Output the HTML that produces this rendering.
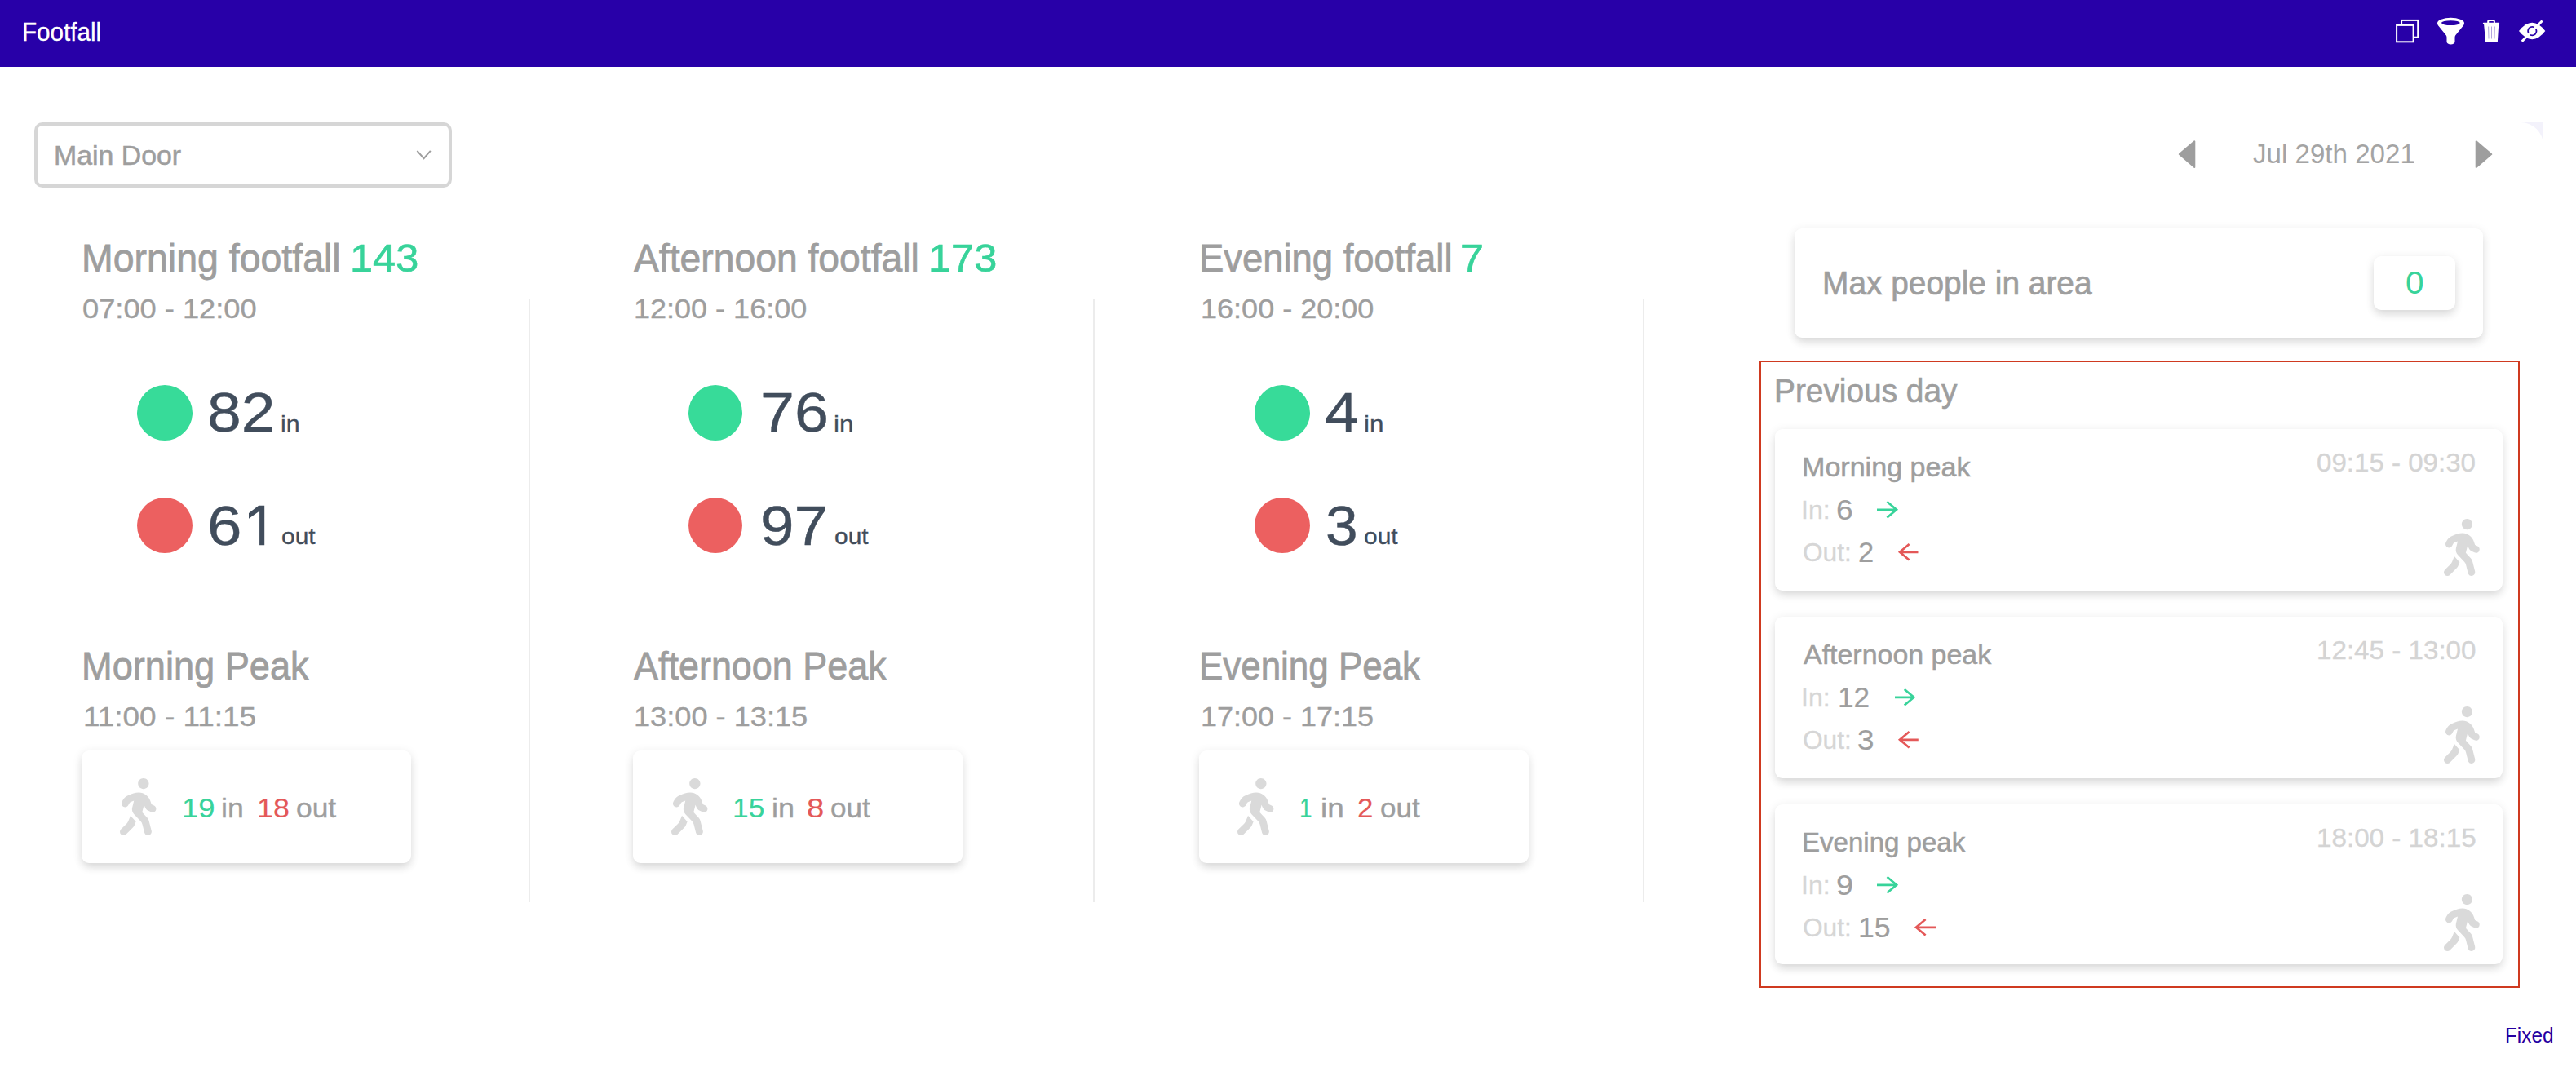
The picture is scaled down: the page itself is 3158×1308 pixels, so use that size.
<!DOCTYPE html>
<html lang="en">
<head>
<meta charset="utf-8">
<title>Footfall</title>
<style>
*{box-sizing:border-box;margin:0;padding:0}
html,body{width:3158px;height:1308px;overflow:hidden;background:#fff}
body{font-family:"Liberation Sans",sans-serif;position:relative;color:#9e9e9e}
.abs{position:absolute;white-space:nowrap;line-height:1;transform-origin:0 0}
.k{-webkit-text-stroke:0.016em currentColor}
.k2{-webkit-text-stroke:0.008em currentColor}
.ic{position:absolute;display:block;overflow:visible}
#hdr{position:absolute;left:0;top:0;width:3158px;height:82px;background:#2800a8}
.sel{position:absolute;left:42px;top:150px;width:512px;height:80px;border:4px solid #d6d6d6;border-radius:10px;background:#fff}
.dot{position:absolute;width:68px;height:68px;border-radius:50%}
.g{background:#37db99}.r{background:#ec6060}
.vl{position:absolute;width:2px;background:#ececec;top:366px;height:740px}
.card{position:absolute;background:#fff;border-radius:9px;box-shadow:0 7px 12px -2px rgba(0,0,0,.11),0 2px 12px 1px rgba(0,0,0,.075)}
.redbox{position:absolute;left:2157px;top:442px;width:932px;height:769px;border:2px solid #cf3a20}
</style>
</head>
<body>
<div id="hdr"></div>
<svg class="ic" style="left:2925px;top:0px" width="215" height="82" viewBox="2925 0 215 82">
<rect x="2944.100" y="24.900" width="20.100" height="20.800" fill="none" stroke="#fff" stroke-width="2"/>
<rect x="2938.100" y="30.900" width="20.500" height="20.400" fill="#2800a8" stroke="#fff" stroke-width="2"/>
<path fill="#fff" fill-rule="evenodd" d="M2988 28.300A16.500 6.500 0 0 1 3021 28.300Q3021 30 3019.800 31.500L3010.300 43.300Q3009.500 44.300 3009.500 45.800V51A5 3.600 0 0 1 2999.500 51V45.800Q2999.500 44.300 2998.700 43.300L2989.200 31.500Q2988 30 2988 28.300ZM2993 28.100A11.400 2.900 0 1 0 3015.800 28.100A11.400 2.900 0 1 0 2993 28.100Z"/>
<rect x="3043.900" y="27.700" width="20.200" height="2.300" rx="0.800" fill="#fff"/>
<path d="M3050.200 28V26.400Q3050.200 24.900 3051.700 24.900H3056.400Q3057.900 24.900 3057.900 26.400V28" fill="none" stroke="#fff" stroke-width="2"/>
<path d="M3045.100 29.800H3063.200L3061.900 51.200Q3061.850 52.100 3060.900 52.100H3048.100Q3047.150 52.100 3047.100 51.200Z" fill="#fff"/>
<path d="M3050.600 32.500L3051 47.500M3054.500 32.500V47.500M3058.400 32.500L3058 47.500" stroke="#2800a8" stroke-opacity="0.400" stroke-width="0.900" fill="none"/>
<path d="M3088 38.100Q3096 27.800 3104.200 27.800Q3112.400 27.800 3120.300 38.100Q3112.400 48.300 3104.200 48.300Q3096 48.300 3088 38.100Z" fill="#fff"/>
<circle cx="3104.300" cy="38.100" r="5.200" fill="none" stroke="#2800a8" stroke-width="1.800"/>
<path d="M3091.700 50.700L3116.600 25.500" stroke="#fff" stroke-width="3" fill="none"/>
</svg>

<div class="sel"></div>
<svg class="ic" style="left:508px;top:182px" width="24" height="16" viewBox="0 0 24 16"><path d="M3.4 2.9L11.600 12.200L19.800 2.900" fill="none" stroke="#9e9e9e" stroke-width="2"/></svg>
<svg class="ic" style="left:2668px;top:170px" width="26" height="38" viewBox="0 0 26 38"><path d="M22.300 3.300V34.900L3.800 19.100Z" fill="#9e9e9e" stroke="#9e9e9e" stroke-width="2" stroke-linejoin="round"/></svg>
<svg class="ic" style="left:3032px;top:170px" width="26" height="38" viewBox="0 0 26 38"><path d="M3.700 3.300V34.900L22.200 19.100Z" fill="#9e9e9e" stroke="#9e9e9e" stroke-width="2" stroke-linejoin="round"/></svg>
<svg class="ic" style="left:3090px;top:150px" width="28" height="28" viewBox="0 0 28 28"><path d="M0 0H28V28A28 28 0 0 0 0 0Z" fill="#f3f2fb"/></svg>

<div class="vl" style="left:648px"></div>
<div class="vl" style="left:1340px"></div>
<div class="vl" style="left:2014px"></div>

<div class="dot g" style="left:168px;top:472px"></div>
<div class="dot r" style="left:168px;top:610px"></div>
<div class="dot g" style="left:844px;top:472px;width:66px"></div>
<div class="dot r" style="left:844px;top:610px;width:66px"></div>
<div class="dot g" style="left:1538px;top:472px"></div>
<div class="dot r" style="left:1538px;top:610px"></div>

<div class="card" style="left:100px;top:920px;width:404px;height:138px"></div>
<div class="card" style="left:776px;top:920px;width:404px;height:138px"></div>
<div class="card" style="left:1470px;top:920px;width:404px;height:138px"></div>

<div class="card" style="left:2200px;top:280px;width:844px;height:134px"></div>
<div class="card" style="left:2910px;top:314px;width:100px;height:66px"></div>
<div class="redbox"></div>
<div class="card" style="left:2176px;top:526px;width:892px;height:198px"></div>
<div class="card" style="left:2176px;top:756px;width:892px;height:198px"></div>
<div class="card" style="left:2176px;top:986px;width:892px;height:196px"></div>

<svg class="ic" style="left:146.6px;top:953.9px" width="44.4" height="70" viewBox="0 0 320 512" preserveAspectRatio="none"><path fill="#dadada" d="M208 96c26.500 0 48-21.500 48-48S234.500 0 208 0s-48 21.500-48 48 21.500 48 48 48zm94.500 149.100l-23.300-11.800-9.700-29.400c-14.700-44.600-55.700-75.800-102.200-75.900-36-.1-55.900 10.100-93.300 25.200-21.600 8.700-39.300 25.200-49.700 46.200L17.600 213c-7.800 15.800-1.500 35 14.200 42.900 15.600 7.900 34.600 1.500 42.500-14.300L81 228c3.500-7 9.300-12.500 16.500-15.400l26.800-10.800-15.200 60.700c-5.200 20.800.4 42.900 14.900 58.800l59.900 65.400c7.200 7.900 12.300 17.400 14.900 27.700l18.300 73.300c4.300 17.100 21.700 27.600 38.800 23.300 17.100-4.300 27.600-21.700 23.300-38.800l-22.200-89c-2.600-10.300-7.700-19.900-14.900-27.700l-45.500-49.700 17.200-68.700 5.500 16.500c5.300 16.100 16.700 29.400 31.700 37l23.300 11.800c15.600 7.900 34.600 1.500 42.500-14.300 7.700-15.700 1.400-35.100-14.300-43zM73.600 385.800c-3.200 8.100-8 15.400-14.200 21.500l-50 50.100c-12.500 12.500-12.500 32.800 0 45.300s32.700 12.500 45.200 0l59.400-59.400c6.100-6.100 10.900-13.400 14.200-21.500l13.500-33.800c-55.300-60.300-38.700-41.800-47.400-53.700l-20.700 51.500z"/></svg>
<svg class="ic" style="left:823px;top:953.9px" width="44.4" height="70" viewBox="0 0 320 512" preserveAspectRatio="none"><path fill="#dadada" d="M208 96c26.500 0 48-21.500 48-48S234.500 0 208 0s-48 21.500-48 48 21.500 48 48 48zm94.500 149.100l-23.300-11.800-9.700-29.400c-14.700-44.600-55.700-75.800-102.200-75.900-36-.1-55.900 10.100-93.300 25.200-21.600 8.700-39.300 25.200-49.700 46.200L17.600 213c-7.800 15.800-1.500 35 14.200 42.900 15.600 7.900 34.600 1.500 42.500-14.300L81 228c3.500-7 9.300-12.500 16.500-15.400l26.800-10.800-15.200 60.700c-5.200 20.800.4 42.900 14.900 58.800l59.900 65.400c7.200 7.900 12.300 17.400 14.900 27.700l18.300 73.300c4.300 17.100 21.700 27.600 38.800 23.300 17.100-4.300 27.600-21.700 23.300-38.800l-22.200-89c-2.600-10.300-7.700-19.900-14.900-27.700l-45.500-49.700 17.200-68.700 5.500 16.500c5.300 16.100 16.700 29.400 31.700 37l23.300 11.800c15.600 7.900 34.600 1.500 42.500-14.300 7.700-15.700 1.400-35.100-14.300-43zM73.600 385.800c-3.200 8.100-8 15.400-14.200 21.500l-50 50.100c-12.500 12.500-12.500 32.800 0 45.300s32.700 12.500 45.200 0l59.400-59.400c6.100-6.100 10.900-13.400 14.200-21.500l13.500-33.800c-55.300-60.300-38.700-41.800-47.400-53.700l-20.700 51.500z"/></svg>
<svg class="ic" style="left:1516.6px;top:953.9px" width="44.4" height="70" viewBox="0 0 320 512" preserveAspectRatio="none"><path fill="#dadada" d="M208 96c26.500 0 48-21.500 48-48S234.500 0 208 0s-48 21.500-48 48 21.500 48 48 48zm94.500 149.100l-23.300-11.800-9.700-29.400c-14.700-44.600-55.700-75.800-102.200-75.900-36-.1-55.900 10.100-93.300 25.200-21.600 8.700-39.300 25.200-49.700 46.200L17.600 213c-7.800 15.800-1.500 35 14.200 42.900 15.600 7.900 34.600 1.500 42.500-14.300L81 228c3.500-7 9.300-12.500 16.500-15.400l26.800-10.800-15.200 60.700c-5.200 20.800.4 42.900 14.900 58.800l59.900 65.400c7.200 7.900 12.300 17.400 14.900 27.700l18.300 73.300c4.300 17.100 21.700 27.600 38.800 23.300 17.100-4.300 27.600-21.700 23.300-38.800l-22.200-89c-2.600-10.300-7.700-19.900-14.900-27.700l-45.500-49.700 17.200-68.700 5.500 16.500c5.300 16.100 16.700 29.400 31.700 37l23.300 11.800c15.600 7.900 34.600 1.500 42.500-14.300 7.700-15.700 1.400-35.100-14.300-43zM73.600 385.800c-3.200 8.100-8 15.400-14.200 21.500l-50 50.100c-12.500 12.500-12.500 32.800 0 45.300s32.700 12.500 45.200 0l59.400-59.400c6.100-6.100 10.900-13.400 14.200-21.500l13.500-33.800c-55.300-60.300-38.700-41.800-47.400-53.700l-20.700 51.500z"/></svg>
<svg class="ic" style="left:2995.5px;top:636.2px" width="43.75" height="70" viewBox="0 0 320 512" preserveAspectRatio="none"><path fill="#dadada" d="M208 96c26.500 0 48-21.500 48-48S234.500 0 208 0s-48 21.500-48 48 21.500 48 48 48zm94.500 149.100l-23.300-11.800-9.700-29.400c-14.700-44.600-55.700-75.800-102.200-75.900-36-.1-55.900 10.100-93.300 25.200-21.600 8.700-39.300 25.200-49.700 46.200L17.600 213c-7.800 15.800-1.500 35 14.200 42.900 15.600 7.900 34.600 1.500 42.500-14.300L81 228c3.500-7 9.300-12.500 16.500-15.400l26.800-10.800-15.200 60.700c-5.200 20.800.4 42.900 14.900 58.800l59.900 65.400c7.200 7.900 12.300 17.400 14.900 27.700l18.300 73.300c4.300 17.100 21.700 27.600 38.800 23.300 17.100-4.300 27.600-21.700 23.300-38.800l-22.200-89c-2.600-10.300-7.700-19.900-14.900-27.700l-45.500-49.700 17.200-68.700 5.500 16.500c5.300 16.100 16.700 29.400 31.700 37l23.300 11.800c15.600 7.900 34.600 1.500 42.500-14.300 7.700-15.700 1.400-35.100-14.300-43zM73.600 385.800c-3.200 8.100-8 15.400-14.200 21.500l-50 50.100c-12.500 12.500-12.500 32.800 0 45.300s32.700 12.500 45.200 0l59.400-59.400c6.100-6.100 10.900-13.400 14.200-21.500l13.500-33.800c-55.300-60.300-38.700-41.800-47.400-53.700l-20.700 51.500z"/></svg>
<svg class="ic" style="left:2995.5px;top:866.2px" width="43.75" height="70" viewBox="0 0 320 512" preserveAspectRatio="none"><path fill="#dadada" d="M208 96c26.500 0 48-21.500 48-48S234.500 0 208 0s-48 21.500-48 48 21.500 48 48 48zm94.500 149.100l-23.300-11.800-9.700-29.400c-14.700-44.600-55.700-75.800-102.200-75.900-36-.1-55.900 10.100-93.300 25.200-21.600 8.700-39.300 25.200-49.700 46.200L17.600 213c-7.800 15.800-1.500 35 14.200 42.900 15.600 7.900 34.600 1.500 42.500-14.300L81 228c3.500-7 9.300-12.500 16.500-15.400l26.800-10.800-15.200 60.700c-5.200 20.800.4 42.900 14.900 58.800l59.900 65.400c7.200 7.900 12.300 17.400 14.900 27.700l18.300 73.300c4.300 17.100 21.700 27.600 38.800 23.300 17.100-4.300 27.600-21.700 23.300-38.800l-22.200-89c-2.600-10.300-7.700-19.900-14.900-27.700l-45.500-49.700 17.200-68.700 5.500 16.500c5.300 16.100 16.700 29.400 31.700 37l23.300 11.800c15.600 7.900 34.600 1.500 42.500-14.300 7.700-15.700 1.400-35.100-14.300-43zM73.600 385.800c-3.200 8.100-8 15.400-14.200 21.500l-50 50.100c-12.500 12.500-12.500 32.800 0 45.300s32.700 12.500 45.200 0l59.400-59.400c6.100-6.100 10.900-13.400 14.200-21.500l13.500-33.800c-55.300-60.300-38.700-41.800-47.400-53.700l-20.700 51.500z"/></svg>
<svg class="ic" style="left:2995.5px;top:1096.2px" width="43.75" height="70" viewBox="0 0 320 512" preserveAspectRatio="none"><path fill="#dadada" d="M208 96c26.500 0 48-21.500 48-48S234.500 0 208 0s-48 21.500-48 48 21.500 48 48 48zm94.500 149.100l-23.300-11.800-9.700-29.400c-14.700-44.600-55.700-75.800-102.200-75.900-36-.1-55.900 10.100-93.300 25.200-21.600 8.700-39.300 25.200-49.700 46.200L17.600 213c-7.800 15.800-1.500 35 14.200 42.900 15.600 7.900 34.600 1.500 42.500-14.300L81 228c3.500-7 9.300-12.500 16.500-15.400l26.800-10.800-15.200 60.700c-5.200 20.800.4 42.900 14.900 58.800l59.900 65.400c7.200 7.900 12.300 17.400 14.900 27.700l18.300 73.300c4.300 17.100 21.700 27.600 38.800 23.300 17.100-4.300 27.600-21.700 23.300-38.800l-22.200-89c-2.600-10.300-7.700-19.900-14.900-27.700l-45.500-49.700 17.200-68.700 5.500 16.500c5.300 16.100 16.700 29.400 31.700 37l23.300 11.800c15.600 7.900 34.600 1.500 42.500-14.300 7.700-15.700 1.400-35.100-14.300-43zM73.600 385.800c-3.200 8.100-8 15.400-14.200 21.500l-50 50.100c-12.500 12.500-12.500 32.800 0 45.300s32.700 12.500 45.200 0l59.400-59.400c6.100-6.100 10.900-13.400 14.200-21.500l13.500-33.800c-55.300-60.300-38.700-41.800-47.400-53.700l-20.700 51.500z"/></svg>
<svg class="ic" style="left:2301px;top:614.2px" width="26.0" height="21.6" viewBox="0 0 26.0 21.6"><path d="M0 10.8H23.4 M12.4 1L24 10.8L12.4 20.6" fill="none" stroke="#38d39a" stroke-width="2.7" stroke-linejoin="miter"/></svg>
<svg class="ic" style="left:2326.5px;top:666.3px" width="24.5" height="21.6" viewBox="0 0 24.5 21.6"><path d="M24.5 10.8H2.6 M13.6 1L2 10.8L13.6 20.6" fill="none" stroke="#e45858" stroke-width="2.7" stroke-linejoin="miter"/></svg>
<svg class="ic" style="left:2322.7px;top:844.2px" width="25.3" height="21.6" viewBox="0 0 25.3 21.6"><path d="M0 10.8H22.70000000000018 M11.700000000000182 1L23.300000000000182 10.8L11.700000000000182 20.6" fill="none" stroke="#38d39a" stroke-width="2.7" stroke-linejoin="miter"/></svg>
<svg class="ic" style="left:2326.5px;top:896.3px" width="24.8" height="21.6" viewBox="0 0 24.8 21.6"><path d="M24.800000000000182 10.8H2.6 M13.6 1L2 10.8L13.6 20.6" fill="none" stroke="#e45858" stroke-width="2.7" stroke-linejoin="miter"/></svg>
<svg class="ic" style="left:2300.9px;top:1074.2px" width="26.1" height="21.6" viewBox="0 0 26.1 21.6"><path d="M0 10.8H23.499999999999908 M12.49999999999991 1L24.09999999999991 10.8L12.49999999999991 20.6" fill="none" stroke="#38d39a" stroke-width="2.7" stroke-linejoin="miter"/></svg>
<svg class="ic" style="left:2346.8px;top:1126.3px" width="26.1" height="21.6" viewBox="0 0 26.1 21.6"><path d="M26.09999999999991 10.8H2.6 M13.6 1L2 10.8L13.6 20.6" fill="none" stroke="#e45858" stroke-width="2.7" stroke-linejoin="miter"/></svg>
<svg class="ic" style="left:300px;top:615px" width="30" height="58" viewBox="300 615 30 58"><path fill="#414d5c" d="M324.2 619.7V668.2H318.100V626.500L305 635.800V629.100L317.100 619.700Z"/></svg>
<div class="abs" style="left:27.2px;top:23.8px;font-size:31.5px;color:#fff;transform:scaleX(0.941);-webkit-text-stroke:0.0080em currentColor">Footfall</div>
<div class="abs" style="left:65.5px;top:173.1px;font-size:34px;color:#9e9e9e;transform:scaleX(0.995);-webkit-text-stroke:0.0160em currentColor">Main Door</div>
<div class="abs" style="left:2761.5px;top:171.4px;font-size:34px;color:#a4a4a4;transform:scaleX(0.974)">Jul 29th 2021</div>
<div class="abs" style="left:99.6px;top:293.4px;font-size:48px;color:#9e9e9e;transform:scaleX(0.968);-webkit-text-stroke:0.0160em currentColor">Morning footfall</div>
<div class="abs" style="left:429.2px;top:293.4px;font-size:48px;color:#38d39a;transform:scaleX(1.052);-webkit-text-stroke:0.0130em currentColor">143</div>
<div class="abs" style="left:100.9px;top:361.3px;font-size:34px;color:#9e9e9e;transform:scaleX(1.066);-webkit-text-stroke:0.0110em currentColor">07:00 - 12:00</div>
<div class="abs" style="left:253.9px;top:471.4px;font-size:69px;color:#414d5c;transform:scaleX(1.088);-webkit-text-stroke:0.0060em currentColor">82</div>
<div class="abs" style="left:344.4px;top:506.5px;font-size:27px;color:#414d5c;transform:scaleX(1.123);-webkit-text-stroke:0.0110em currentColor">in</div>
<div class="abs" style="left:253.7px;top:609.8px;font-size:69px;color:#414d5c;transform:scaleX(1.106);-webkit-text-stroke:0.0060em currentColor">6</div>
<div class="abs" style="left:344.7px;top:645.2px;font-size:27px;color:#414d5c;transform:scaleX(1.110);-webkit-text-stroke:0.0110em currentColor">out</div>
<div class="abs" style="left:99.8px;top:793.0px;font-size:48px;color:#9e9e9e;transform:scaleX(0.941);-webkit-text-stroke:0.0160em currentColor">Morning Peak</div>
<div class="abs" style="left:101.8px;top:860.9px;font-size:34px;color:#9e9e9e;transform:scaleX(1.086);-webkit-text-stroke:0.0110em currentColor">11:00 - 11:15</div>
<div class="abs" style="left:222.7px;top:973.3px;font-size:34px;color:#38d39a;transform:scaleX(1.070);-webkit-text-stroke:0.0050em currentColor">19</div>
<div class="abs" style="left:270.5px;top:973.8px;font-size:33.3px;color:#9e9e9e;transform:scaleX(1.067);-webkit-text-stroke:0.0110em currentColor">in</div>
<div class="abs" style="left:315.1px;top:973.3px;font-size:34px;color:#e45858;transform:scaleX(1.055);-webkit-text-stroke:0.0050em currentColor">18</div>
<div class="abs" style="left:362.9px;top:973.8px;font-size:33.3px;color:#9e9e9e;transform:scaleX(1.063);-webkit-text-stroke:0.0110em currentColor">out</div>
<div class="abs" style="left:776.7px;top:293.4px;font-size:48px;color:#9e9e9e;transform:scaleX(0.964);-webkit-text-stroke:0.0160em currentColor">Afternoon footfall</div>
<div class="abs" style="left:1138.1px;top:293.4px;font-size:48px;color:#38d39a;transform:scaleX(1.052);-webkit-text-stroke:0.0130em currentColor">173</div>
<div class="abs" style="left:777.3px;top:361.3px;font-size:34px;color:#9e9e9e;transform:scaleX(1.059);-webkit-text-stroke:0.0110em currentColor">12:00 - 16:00</div>
<div class="abs" style="left:931.5px;top:471.4px;font-size:69px;color:#414d5c;transform:scaleX(1.093);-webkit-text-stroke:0.0060em currentColor">76</div>
<div class="abs" style="left:1021.9px;top:506.5px;font-size:27px;color:#414d5c;transform:scaleX(1.162);-webkit-text-stroke:0.0110em currentColor">in</div>
<div class="abs" style="left:931.9px;top:609.7px;font-size:69px;color:#414d5c;transform:scaleX(1.081);-webkit-text-stroke:0.0060em currentColor">97</div>
<div class="abs" style="left:1022.7px;top:645.2px;font-size:27px;color:#414d5c;transform:scaleX(1.110);-webkit-text-stroke:0.0110em currentColor">out</div>
<div class="abs" style="left:777.2px;top:793.0px;font-size:48px;color:#9e9e9e;transform:scaleX(0.936);-webkit-text-stroke:0.0160em currentColor">Afternoon Peak</div>
<div class="abs" style="left:776.8px;top:860.9px;font-size:34px;color:#9e9e9e;transform:scaleX(1.064);-webkit-text-stroke:0.0110em currentColor">13:00 - 13:15</div>
<div class="abs" style="left:898.3px;top:973.3px;font-size:34px;color:#38d39a;transform:scaleX(1.038);-webkit-text-stroke:0.0050em currentColor">15</div>
<div class="abs" style="left:945.7px;top:973.8px;font-size:33.3px;color:#9e9e9e;transform:scaleX(1.081);-webkit-text-stroke:0.0110em currentColor">in</div>
<div class="abs" style="left:989.2px;top:973.3px;font-size:34px;color:#e45858;transform:scaleX(1.126);-webkit-text-stroke:0.0050em currentColor">8</div>
<div class="abs" style="left:1018.0px;top:973.8px;font-size:33.3px;color:#9e9e9e;transform:scaleX(1.056);-webkit-text-stroke:0.0110em currentColor">out</div>
<div class="abs" style="left:1470.1px;top:293.4px;font-size:48px;color:#9e9e9e;transform:scaleX(0.946);-webkit-text-stroke:0.0160em currentColor">Evening footfall</div>
<div class="abs" style="left:1789.7px;top:293.4px;font-size:48px;color:#38d39a;transform:scaleX(1.085);-webkit-text-stroke:0.0130em currentColor">7</div>
<div class="abs" style="left:1472.0px;top:361.3px;font-size:34px;color:#9e9e9e;transform:scaleX(1.060);-webkit-text-stroke:0.0110em currentColor">16:00 - 20:00</div>
<div class="abs" style="left:1624.1px;top:471.4px;font-size:69px;color:#414d5c;transform:scaleX(1.087);-webkit-text-stroke:0.0060em currentColor">4</div>
<div class="abs" style="left:1672.0px;top:506.5px;font-size:27px;color:#414d5c;transform:scaleX(1.162);-webkit-text-stroke:0.0110em currentColor">in</div>
<div class="abs" style="left:1624.7px;top:609.7px;font-size:69px;color:#414d5c;transform:scaleX(1.033);-webkit-text-stroke:0.0060em currentColor">3</div>
<div class="abs" style="left:1672.4px;top:645.2px;font-size:27px;color:#414d5c;transform:scaleX(1.110);-webkit-text-stroke:0.0110em currentColor">out</div>
<div class="abs" style="left:1469.9px;top:793.0px;font-size:48px;color:#9e9e9e;transform:scaleX(0.915);-webkit-text-stroke:0.0160em currentColor">Evening Peak</div>
<div class="abs" style="left:1471.9px;top:860.9px;font-size:34px;color:#9e9e9e;transform:scaleX(1.058);-webkit-text-stroke:0.0110em currentColor">17:00 - 17:15</div>
<div class="abs" style="left:1593.3px;top:973.3px;font-size:34px;color:#38d39a;transform:scaleX(0.821);-webkit-text-stroke:0.0050em currentColor">1</div>
<div class="abs" style="left:1619.1px;top:973.8px;font-size:33.3px;color:#9e9e9e;transform:scaleX(1.109);-webkit-text-stroke:0.0110em currentColor">in</div>
<div class="abs" style="left:1664.2px;top:973.3px;font-size:34px;color:#e45858;transform:scaleX(1.028);-webkit-text-stroke:0.0050em currentColor">2</div>
<div class="abs" style="left:1692.4px;top:973.8px;font-size:33.3px;color:#9e9e9e;transform:scaleX(1.052);-webkit-text-stroke:0.0110em currentColor">out</div>
<div class="abs" style="left:2233.6px;top:327.4px;font-size:41px;color:#9e9e9e;transform:scaleX(0.948);-webkit-text-stroke:0.0160em currentColor">Max people in area</div>
<div class="abs" style="left:2949.0px;top:327.5px;font-size:38.5px;color:#38d39a;transform:scaleX(1.055)">0</div>
<div class="abs" style="left:2175.1px;top:459.0px;font-size:41px;color:#9e9e9e;transform:scaleX(0.947);-webkit-text-stroke:0.0160em currentColor">Previous day</div>
<div class="abs" style="left:2208.9px;top:555.0px;font-size:34px;color:#9e9e9e;transform:scaleX(1.002);-webkit-text-stroke:0.0160em currentColor">Morning peak</div>
<div class="abs" style="left:2839.9px;top:552.4px;font-size:31px;color:#d4d4d4;transform:scaleX(1.067);-webkit-text-stroke:0.0110em currentColor">09:15 - 09:30</div>
<div class="abs" style="left:2208.1px;top:610.0px;font-size:30.5px;color:#d6d6d6;transform:scaleX(1.051);-webkit-text-stroke:0.0110em currentColor">In:</div>
<div class="abs" style="left:2251.1px;top:606.7px;font-size:35px;color:#9e9e9e;transform:scaleX(1.062);-webkit-text-stroke:0.0060em currentColor">6</div>
<div class="abs" style="left:2209.6px;top:662.0px;font-size:30.5px;color:#d6d6d6;transform:scaleX(1.037);-webkit-text-stroke:0.0110em currentColor">Out:</div>
<div class="abs" style="left:2278.0px;top:658.5px;font-size:35px;color:#9e9e9e;transform:scaleX(0.986);-webkit-text-stroke:0.0060em currentColor">2</div>
<div class="abs" style="left:2211.2px;top:785.0px;font-size:34px;color:#9e9e9e;transform:scaleX(0.998);-webkit-text-stroke:0.0160em currentColor">Afternoon peak</div>
<div class="abs" style="left:2840.4px;top:782.4px;font-size:31px;color:#d4d4d4;transform:scaleX(1.070);-webkit-text-stroke:0.0110em currentColor">12:45 - 13:00</div>
<div class="abs" style="left:2208.1px;top:840.0px;font-size:30.5px;color:#d6d6d6;transform:scaleX(1.051);-webkit-text-stroke:0.0110em currentColor">In:</div>
<div class="abs" style="left:2253.1px;top:836.7px;font-size:35px;color:#9e9e9e;transform:scaleX(1.007);-webkit-text-stroke:0.0060em currentColor">12</div>
<div class="abs" style="left:2209.6px;top:892.0px;font-size:30.5px;color:#d6d6d6;transform:scaleX(1.037);-webkit-text-stroke:0.0110em currentColor">Out:</div>
<div class="abs" style="left:2277.3px;top:888.5px;font-size:35px;color:#9e9e9e;transform:scaleX(1.052);-webkit-text-stroke:0.0060em currentColor">3</div>
<div class="abs" style="left:2209.4px;top:1015.0px;font-size:34px;color:#9e9e9e;transform:scaleX(0.972);-webkit-text-stroke:0.0160em currentColor">Evening peak</div>
<div class="abs" style="left:2840.4px;top:1012.4px;font-size:31px;color:#d4d4d4;transform:scaleX(1.071);-webkit-text-stroke:0.0110em currentColor">18:00 - 18:15</div>
<div class="abs" style="left:2208.1px;top:1070.0px;font-size:30.5px;color:#d6d6d6;transform:scaleX(1.051);-webkit-text-stroke:0.0110em currentColor">In:</div>
<div class="abs" style="left:2250.7px;top:1066.7px;font-size:35px;color:#9e9e9e;transform:scaleX(1.081);-webkit-text-stroke:0.0060em currentColor">9</div>
<div class="abs" style="left:2209.6px;top:1122.0px;font-size:30.5px;color:#d6d6d6;transform:scaleX(1.037);-webkit-text-stroke:0.0110em currentColor">Out:</div>
<div class="abs" style="left:2278.3px;top:1118.5px;font-size:35px;color:#9e9e9e;transform:scaleX(1.019);-webkit-text-stroke:0.0060em currentColor">15</div>
<div class="abs" style="left:3070.9px;top:1256.9px;font-size:25px;color:#2600a2;transform:scaleX(0.972)">Fixed</div>
</body>
</html>
